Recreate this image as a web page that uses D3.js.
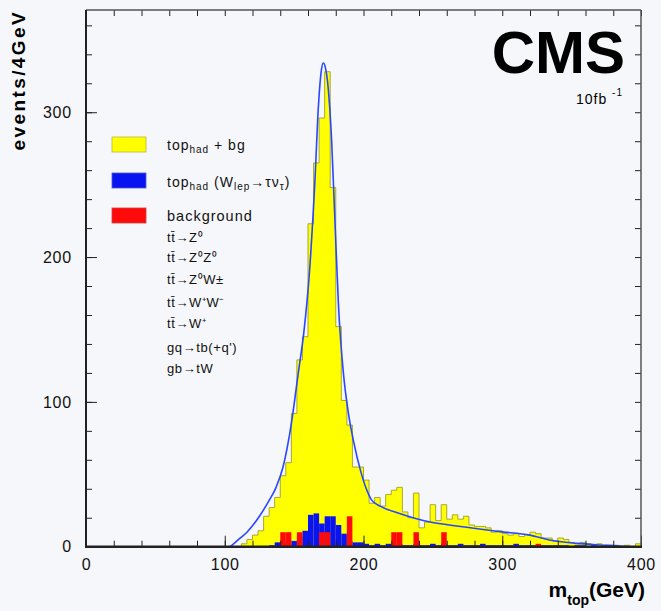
<!DOCTYPE html>
<html><head><meta charset="utf-8">
<script src="https://cdn.jsdelivr.net/npm/d3@7"></script>
<style>
html,body{margin:0;padding:0;background:#f6f7fa;}
svg{display:block;font-family:"Liberation Sans",Arial,sans-serif;}
</style></head>
<body>
<svg id="c" width="661" height="611"></svg>
<script>
// bins of 4 GeV starting at 100 GeV
const binStart = 100, binWidth = 4;
const topHadBg = [0,0,0,2,5,8,11,21,27,34,49,58,92,129,145,223,265,296,328,248,152,101,84,55,55,46,30,34,28,36,39,41,24,20,37,13,17,29,18,29,19,22,19,21,15,14,14,13,10,11,9,8,9,7,8,10,9,6,6,4,6,5,3,2,3,2,1,2,1,1,1,0,1,0,2];
const topHadTau = [0,0,0,0,0,0,0,0,1,3,3,2,4,7,11,22,23,16,21,21,15,9,4,3,3,2,1,2,1,2,1,2,1,1,2,1,1,2,1,2,1,1,2,1,1,1,2,1,1,1,1,1,2,1,1,1,1,1,1,1,1,1,0,1,1,0,1,0,1,0,0,0,0,0,0];
const backgroundHist = [0,0,0,0,0,0,0,0,0,0,10,10,0,10,0,0,0,10,10,0,0,0,21,0,0,0,0,0,0,0,10,10,0,0,10,0,0,0,0,10,0,0,0,0,0,0,0,0,0,0,0,0,0,0,0,0,2,0,0,0,0,0,0,0,0,0,0,0,0,0,0,0,0,0,0];
const fitCurve = [[104,0],[110,5],[116,10],[125,21],[132,32],[137,41],[142,55],[148,85],[153,120],[157,148],[161,189],[165,253],[167.5,304],[169.5,328],[171,334],[172.5,331],[174,322],[177,281],[179.5,223],[182,166],[185.5,120],[189,93],[193,72],[198,52],[202,40],[206,32],[212,28],[226,23],[248,17],[270,14],[298,10.4],[320,8],[334,4.6],[354,2.3],[370,1.2],[382,0.7],[392,0]];
const xTicks = [0,100,200,300,400];
const yTicks = [0,100,200,300];
const legendSwatches = ["top_had + bg","top_had (W_lep→τν_τ)","background"];
const processes = ["tt\u0304→Z\u2070","tt\u0304→Z\u2070Z\u2070","tt\u0304→Z\u2070W\u00B1","tt\u0304→W\u207AW\u207B","tt\u0304→W\u207A","gq→tb(+q')","gb→tW"];

const svg = d3.select("#c");
const X0=86, X1=641, Y0=546.7, Y1=10;
const x = d3.scaleLinear().domain([0,400]).range([X0,X1]);
const y = d3.scaleLinear().domain([0,370.6]).range([Y0,Y1]);

svg.append("rect").attr("width",661).attr("height",611).attr("fill","#f6f7fa");

function stepPath(vals){
  const pts=[[binStart,0]];
  vals.forEach((v,i)=>{const a=binStart+i*binWidth;pts.push([a,v],[a+binWidth,v]);});
  pts.push([binStart+vals.length*binWidth,0]);
  return d3.line().x(d=>x(d[0])).y(d=>y(d[1]))(pts);
}
svg.append("path").attr("d",stepPath(topHadBg)+"Z").attr("fill","#ffff00").attr("stroke","#a8a830").attr("stroke-width",1);
function bars(vals,color){
  svg.append("g").selectAll("rect").data(vals.map((v,i)=>({v,i})).filter(d=>d.v>0)).join("rect")
    .attr("x",d=>x(binStart+d.i*binWidth)).attr("width",d=>x(binStart+binWidth)-x(binStart))
    .attr("y",d=>y(d.v)).attr("height",d=>Y0-y(d.v)).attr("fill",color);
}
bars(topHadTau,"#0a14f0");
bars(backgroundHist,"#ff0a0a");
svg.append("path").attr("d",d3.line().x(d=>x(d[0])).y(d=>y(d[1])).curve(d3.curveMonotoneX)(fitCurve))
  .attr("fill","none").attr("stroke","#2848ff").attr("stroke-width",1.6);

// axes
const minorX = d3.range(0,401,20), minorY = d3.range(0,371,20);
function style(g){g.select(".domain").remove();g.selectAll("line").attr("stroke","#222");g.selectAll("text").attr("fill","#111").attr("font-size",16).attr("font-family","Liberation Sans, Arial, sans-serif").attr("letter-spacing",0.8);}
svg.append("g").attr("transform",`translate(0,${Y0})`).call(d3.axisBottom(x).tickValues(minorX).tickSize(-6).tickFormat("")).call(style);
svg.append("g").attr("transform",`translate(0,${Y0})`).call(d3.axisBottom(x).tickValues(xTicks).tickSize(-11).tickPadding(9).tickFormat(d3.format("d"))).call(style)
  .selectAll("text").attr("dy","0.9em");
svg.append("g").attr("transform",`translate(${X0},0)`).call(d3.axisLeft(y).tickValues(minorY).tickSize(-6).tickFormat("")).call(style);
svg.append("g").attr("transform",`translate(${X0},0)`).call(d3.axisLeft(y).tickValues(yTicks).tickSize(-11).tickPadding(14).tickFormat(d3.format("d"))).call(style);
svg.append("g").attr("transform",`translate(0,${Y1})`).call(d3.axisTop(x).tickValues(minorX).tickSize(-6).tickFormat("")).call(style);
svg.append("g").attr("transform",`translate(${X1},0)`).call(d3.axisRight(y).tickValues(minorY).tickSize(-6).tickFormat("")).call(style);
svg.append("line").attr("x1",X0).attr("x2",X1).attr("y1",Y1).attr("y2",Y1).attr("stroke","#555").attr("stroke-width",1.5);
svg.append("line").attr("x1",X1).attr("x2",X1).attr("y1",Y1).attr("y2",Y0).attr("stroke","#555").attr("stroke-width",1.5);
svg.append("line").attr("x1",X0).attr("x2",X0).attr("y1",Y1).attr("y2",Y0).attr("stroke","#222").attr("stroke-width",2);
svg.append("line").attr("x1",X0-1).attr("x2",X1+1).attr("y1",Y0).attr("y2",Y0).attr("stroke","#222").attr("stroke-width",2.4);

// axis titles
svg.append("text").attr("transform","translate(25,10) rotate(-90)").attr("text-anchor","end")
  .attr("font-weight","bold").attr("font-size",19).attr("letter-spacing",2.4).text("events/4GeV");
const xt = svg.append("text").attr("x",645).attr("y",597).attr("text-anchor","end").attr("font-weight","bold").attr("font-size",21);
xt.append("tspan").text("m");
xt.append("tspan").attr("font-size",14).attr("dy",8).text("top");
xt.append("tspan").attr("dy",-8).text("(GeV)");

svg.append("text").attr("x",625).attr("y",73).attr("text-anchor","end").attr("font-weight","bold").attr("font-size",60).text("CMS");
const lum = svg.append("text").attr("x",623).attr("y",104).attr("text-anchor","end").attr("font-size",14).attr("letter-spacing",1);
lum.append("tspan").text("10fb ");
lum.append("tspan").attr("dy",-8).attr("font-size",10).text("-1");

// legend
const swColors=["#ffff00","#0a14f0","#ff0a0a"], swStroke=["#b8b840","#4a5ad0","#d04040"], swY=[137,173,208];
legendSwatches.forEach((s,i)=>{
  svg.append("rect").attr("x",112).attr("y",swY[i]).attr("width",34).attr("height",15).attr("fill",swColors[i]).attr("stroke",swStroke[i]).attr("stroke-width",0.8);
});
function legText(yy,fs){return svg.append("text").attr("x",167).attr("y",yy).attr("font-size",fs).attr("fill","#111").attr("letter-spacing",1);}
let t=legText(150,14); t.append("tspan").text("top"); t.append("tspan").attr("font-size",10).attr("dy",3).text("had"); t.append("tspan").attr("dy",-3).text(" + bg");
t=legText(187,14); t.append("tspan").text("top"); t.append("tspan").attr("font-size",10).attr("dy",3).text("had"); t.append("tspan").attr("dy",-3).text(" (W");
t.append("tspan").attr("font-size",10).attr("dy",3).text("lep"); t.append("tspan").attr("dy",-3).text("→τν"); t.append("tspan").attr("font-size",10).attr("dy",3).text("τ");t.append("tspan").attr("dy",-3).text(")");
legText(221,14.5).text("background");
const procY=[242,262,284,307,328,352,373];
processes.forEach((p,i)=>legText(procY[i],13).attr("letter-spacing",0.6).text(p));
</script>
</body></html>
